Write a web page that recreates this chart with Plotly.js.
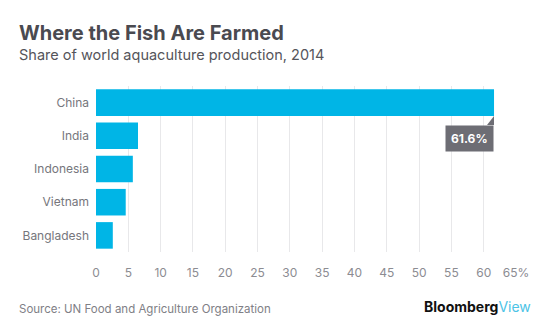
<!DOCTYPE html>
<html>
<head>
<meta charset="utf-8">
<script src="https://cdn.plot.ly/plotly-3.0.1.min.js"></script>
<style>html,body{margin:0;padding:0;background:#fff;}#chart{width:557px;height:336px;}</style>
</head>
<body>
<div id="chart"></div>
<script>
const countries = ["China", "India", "Indonesia", "Vietnam", "Bangladesh"];
const shares = [61.6, 6.5, 5.7, 4.6, 2.6];
const tickValues = [0, 5, 10, 15, 20, 25, 30, 35, 40, 45, 50, 55, 60, 65];
const tickLabels = ["0", "5", "10", "15", "20", "25", "30", "35", "40", "45", "50", "55", "60", "65%"];
const highlightLabel = "61.6%";

const W = 557, H = 336;
const M = {l: 96, r: 40.5, t: 86, b: 84};
const plotH = H - M.t - M.b;
const plotW = W - M.l - M.r;
const py = px => (H - M.b - px) / plotH;
const pxX = px => (px - M.l) / plotW;

const font = "Inter, 'Noto Sans', sans-serif";

const data = [{
  type: "bar",
  orientation: "h",
  x: shares,
  y: countries,
  marker: {color: "#00b5e6"},
  width: 0.8,
  hoverinfo: "skip"
}];

const layout = {
  width: W, height: H,
  margin: M,
  paper_bgcolor: "#ffffff",
  plot_bgcolor: "#ffffff",
  showlegend: false,
  font: {family: font, color: "#7a7a80", size: 12},
  title: {
    text: "Where the Fish Are Farmed",
    font: {family: font, size: 20, color: "#4a4a50", weight: 700},
    xref: "container", yref: "container",
    x: 19 / W, xanchor: "left",
    y: 1 - 33 / H, yanchor: "middle",
    pad: {t: 0, b: 0, l: 0, r: 0}
  },
  xaxis: {
    range: [0, 65],
    tickvals: tickValues,
    ticktext: tickLabels,
    showgrid: true,
    gridcolor: "#e8e8ea",
    gridwidth: 1,
    zeroline: false,
    showline: false,
    ticks: "",
    ticklabelstandoff: 12,
    tickfont: {family: font, size: 12, color: "#8c8c92"},
    fixedrange: true
  },
  yaxis: {
    range: [4.5, -0.5],
    autorange: false,
    showgrid: false,
    zeroline: false,
    showline: false,
    ticks: "",
    ticklabelstandoff: 6,
    tickfont: {family: font, size: 12, color: "#76767c"},
    fixedrange: true
  },
  annotations: [
    {
      text: "Share of world aquaculture production, 2014",
      xref: "paper", yref: "paper",
      x: pxX(17), y: py(54),
      xanchor: "left", yanchor: "middle",
      showarrow: false,
      font: {family: font, size: 14.5, color: "#55555b"}
    },
    {
      text: highlightLabel,
      xref: "x", yref: "y",
      x: shares[0], y: countries[0],
      xanchor: "right", yanchor: "top",
      yshift: -22,
      showarrow: false,
      bgcolor: "#6d6d74",
      borderpad: 5,
      font: {family: font, size: 12, color: "#ffffff", weight: 700}
    },
    {
      text: "Source: UN Food and Agriculture Organization",
      xref: "paper", yref: "paper",
      x: pxX(17), y: py(309),
      xanchor: "left", yanchor: "middle",
      showarrow: false,
      font: {family: font, size: 11.5, color: "#808086"}
    },
    {
      text: "<b>Bloomberg</b><span style=\"color:#4cc3e6\">View</span>",
      xref: "paper", yref: "paper",
      x: pxX(534), y: py(306),
      xanchor: "right", yanchor: "middle",
      showarrow: false,
      font: {family: font, size: 14, color: "#111111"}
    }
  ],
  shapes: [
    {
      type: "path",
      xref: "x", yref: "y",
      xsizemode: "pixel", ysizemode: "pixel",
      xanchor: shares[0], yanchor: 0,
      path: "M0,-13.5 L0,-22.5 L-7,-22.5 Z",
      fillcolor: "#6d6d74",
      line: {width: 0}
    }
  ]
};

Plotly.newPlot("chart", data, layout, {displayModeBar: false, staticPlot: true});
</script>
</body>
</html>
